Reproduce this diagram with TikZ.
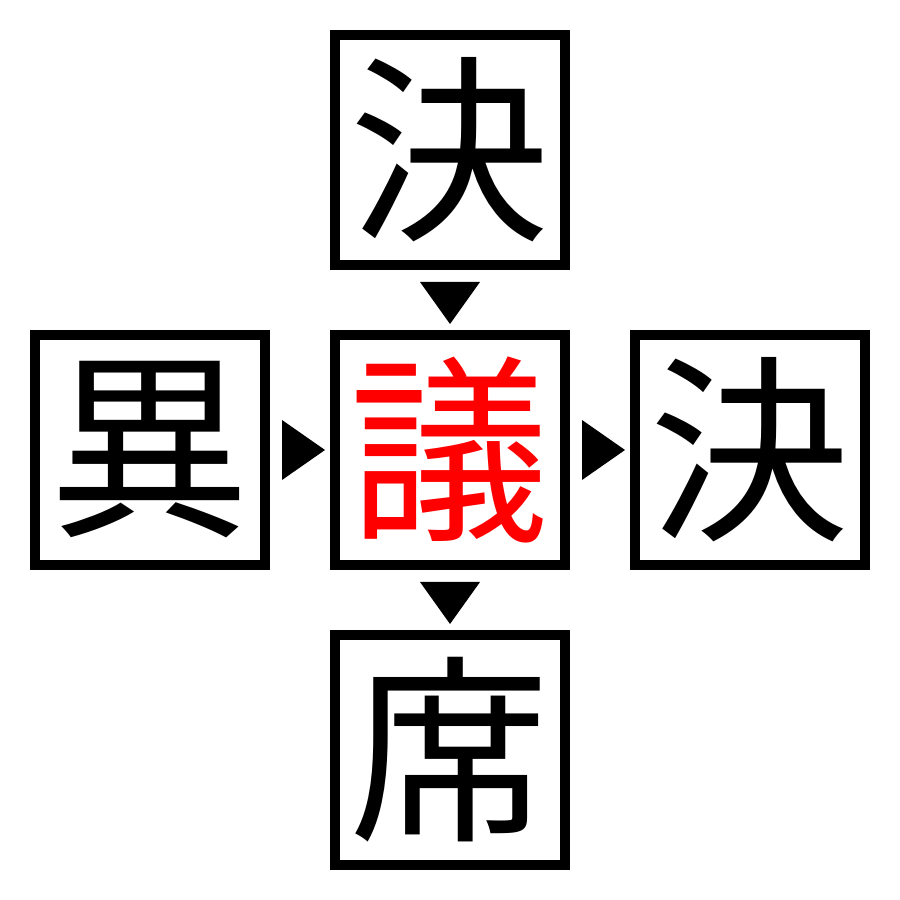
\documentclass[tikz,border=0pt]{standalone}
\usepackage{fontspec}
\newfontfamily\cjk{Noto Sans CJK JP}
\usetikzlibrary{calc}
\tikzset{
  kbox/.style={draw=black, line width=1mm, minimum size=23mm, inner sep=0pt, fill=white,
    font=\cjk\fontsize{57pt}{57pt}\selectfont},
  tri/.style={fill=black}
}
\begin{document}
\begin{tikzpicture}[x=0.1mm, y=0.1mm]
\useasboundingbox (0,0) rectangle (900,900);
\node[kbox] (top) at (450,750) {決};
\node[kbox, text=red] (mid) at (450,450) {議};
\node[kbox] (lft) at (150,450) {異};
\node[kbox] (rgt) at (750,450) {決};
\node[kbox] (bot) at (450,150) {席};
% down triangle top -> mid
\fill[tri] ($(top.south)+(-30,-12)$) -- ($(top.south)+(30,-12)$) -- ($(mid.north)+(0,6)$) -- cycle;
% right triangle lft -> mid
\fill[tri] ($(lft.east)+(12,30)$) -- ($(lft.east)+(12,-30)$) -- ($(mid.west)+(-5,0)$) -- cycle;
% right triangle mid -> rgt
\fill[tri] ($(mid.east)+(12,30)$) -- ($(mid.east)+(12,-30)$) -- ($(rgt.west)+(-5,0)$) -- cycle;
% down triangle mid -> bot
\fill[tri] ($(mid.south)+(-30,-12)$) -- ($(mid.south)+(30,-12)$) -- ($(bot.north)+(0,6)$) -- cycle;
\end{tikzpicture}
\end{document}
